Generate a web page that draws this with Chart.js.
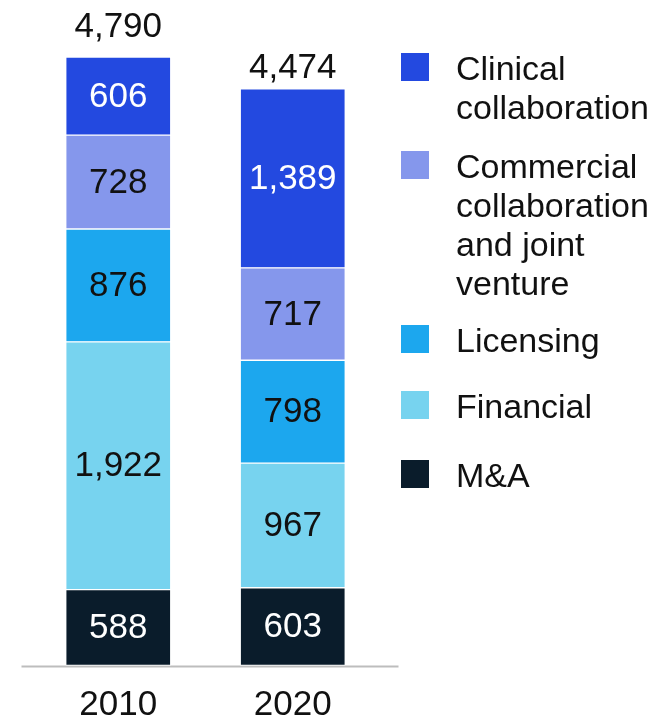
<!DOCTYPE html>
<html>
<head>
<meta charset="utf-8">
<script src="https://cdn.jsdelivr.net/npm/chart.js@4.4.1/dist/chart.umd.min.js"></script>
<style>
    html, body { margin: 0; padding: 0; background: #fff; }
    #wrap {
        position: relative;
        width: 659px;
        height: 724px;
        font-family: 'Liberation Sans', Arial, sans-serif;
        color: #111;
    }
    #wrap canvas { position: absolute; left: 0; top: 0; }
    .legend-item { position: absolute; left: 401px; }
    .legend-item i {
        position: absolute;
        left: 0;
        top: 4px;
        width: 28px;
        height: 28px;
    }
    .legend-item span {
        display: block;
        margin-left: 55px;
        width: 203px;
        font-size: 34px;
        line-height: 39px;
    }
</style>
</head>
<body>
<div id="wrap">
    <canvas id="chart" width="659" height="724"></canvas>
    <div id="legend"></div>
</div>
<script>
const years = ['2010', '2020']

// bottom to top of the stack
const seriesNames = ['M&A', 'Financial', 'Licensing', 'Commercial collaboration and joint venture', 'Clinical collaboration']
const maValues = [588, 603]
const financialValues = [1922, 967]
const licensingValues = [876, 798]
const commercialValues = [728, 717]
const clinicalValues = [606, 1389]
// totals as printed above the bars
const totals = [4790, 4474]

const seriesColors = ['#0a1c2b', '#77d3ef', '#1ca7ee', '#8597ec', '#2349e0']
const labelColors = ['#fff', '#111', '#111', '#111', '#fff']

// legend rows, top to bottom (layout only)
const legendTops = [49, 147, 321, 387, 456]

const seriesValues = [maValues, financialValues, licensingValues, commercialValues, clinicalValues]
const font = '"Liberation Sans", Arial, sans-serif'
const fmt = value => value.toLocaleString('en-US')

const segmentLabels = {
    id: 'segmentLabels',
    beforeDatasetsDraw(chart) {
        const { ctx, chartArea, scales: { y } } = chart
        const base = y.getPixelForValue(0)
        ctx.save()
        ctx.strokeStyle = '#bdbdbd'
        ctx.lineWidth = 2
        ctx.beginPath()
        ctx.moveTo(chartArea.left - 9.5, base + 1)
        ctx.lineTo(chartArea.right + 18.5, base + 1)
        ctx.stroke()
        ctx.restore()
    },
    afterDatasetsDraw(chart) {
        const { ctx, scales: { x, y } } = chart
        ctx.save()
        ctx.font = `35px ${font}`
        ctx.textAlign = 'center'
        chart.data.datasets.forEach((dataset, di) => {
            const meta = chart.getDatasetMeta(di)
            meta.data.forEach((bar, idx) => {
                ctx.fillStyle = labelColors[di]
                ctx.textBaseline = 'middle'
                ctx.fillText(fmt(dataset.data[idx]), bar.x, (bar.y + bar.base) / 2 + 1)
            })
        })
        totals.forEach((total, idx) => {
            ctx.fillStyle = '#111'
            ctx.textBaseline = 'alphabetic'
            ctx.fillText(fmt(total), x.getPixelForValue(idx), y.getPixelForValue(total) - 11)
        })
        ctx.restore()
    }
}

const chart = new Chart(document.getElementById('chart'), {
    type: 'bar',
    data: {
        labels: years,
        datasets: seriesNames.map((name, idx) => ({
            label: name,
            data: seriesValues[idx],
            backgroundColor: seriesColors[idx],
            borderColor: '#ffffff',
            borderWidth: 1,
            borderSkipped: false,
            barThickness: 105
        }))
    },
    options: {
        responsive: false,
        animation: false,
        layout: { padding: { top: 48, left: 31, right: 279, bottom: -22 } },
        plugins: {
            legend: { display: false },
            tooltip: { enabled: false }
        },
        scales: {
            x: {
                stacked: true,
                grid: { display: false, drawTicks: false },
                border: { display: false },
                ticks: {
                    color: '#111',
                    padding: 21,
                    font: { family: font, size: 35, lineHeight: 1.1 }
                }
            },
            y: {
                stacked: true,
                display: false,
                min: 0,
                max: Math.max(...totals)
            }
        }
    },
    plugins: [segmentLabels]
})

const legend = document.getElementById('legend')
chart.data.datasets.slice().reverse().forEach((dataset, idx) => {
    const item = document.createElement('div')
    item.className = 'legend-item'
    item.style.top = `${legendTops[idx]}px`
    const swatch = document.createElement('i')
    swatch.style.background = dataset.backgroundColor
    const text = document.createElement('span')
    text.textContent = dataset.label
    item.append(swatch, text)
    legend.append(item)
})
</script>
</body>
</html>
